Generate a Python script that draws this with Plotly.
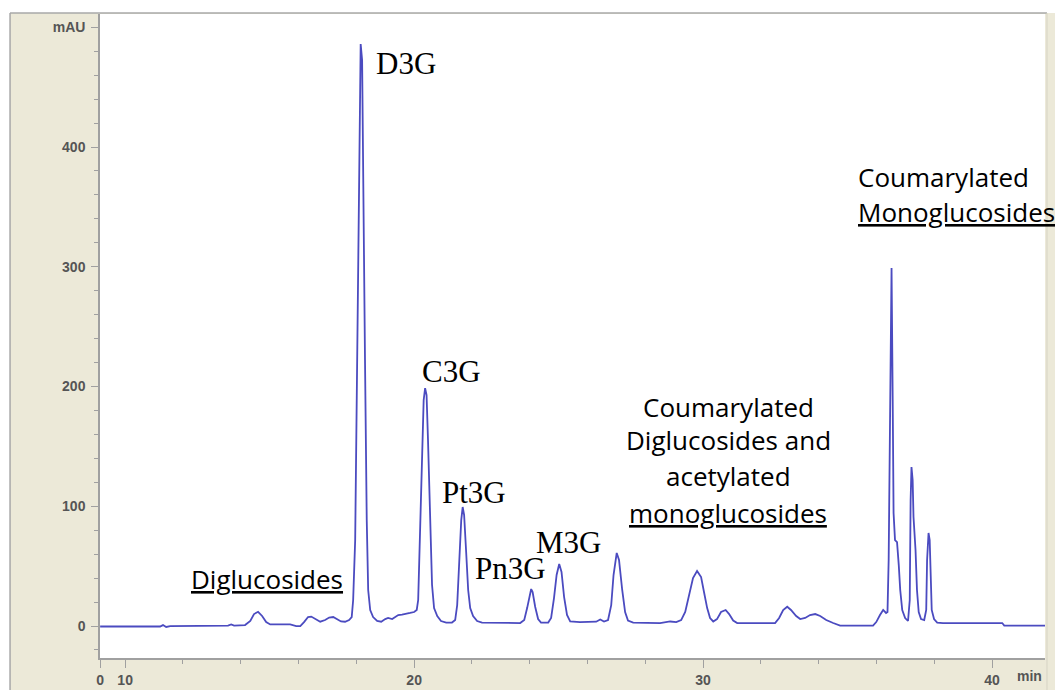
import plotly.graph_objects as go

# ---- data (time in min, absorbance in mAU) ----
time_min = [
    9.135, 11.21, 11.31, 11.42, 11.56, 13.56, 13.67, 13.77, 14.15, 14.33,
    14.46, 14.60, 14.74, 14.88, 15.02, 15.71, 15.92, 16.06, 16.19, 16.33,
    16.44, 16.57, 16.75, 16.92, 17.06, 17.20, 17.34, 17.47, 17.61, 17.75,
    17.84, 17.89, 17.96, 18.03, 18.10, 18.15, 18.20, 18.25, 18.30, 18.36,
    18.41, 18.48, 18.58, 18.72, 18.86, 19.00, 19.10, 19.24, 19.34, 19.45,
    19.58, 19.72, 19.86, 20.00, 20.09, 20.14, 20.21, 20.28, 20.33, 20.38,
    20.43, 20.48, 20.55, 20.62, 20.69, 20.80, 20.93, 21.11, 21.31, 21.42,
    21.49, 21.56, 21.63, 21.68, 21.73, 21.80, 21.87, 21.94, 22.04, 22.18,
    22.35, 23.67, 23.81, 23.91, 24.00, 24.05, 24.10, 24.19, 24.29, 24.39,
    24.64, 24.74, 24.84, 24.93, 25.02, 25.10, 25.19, 25.29, 25.40, 25.74,
    26.30, 26.44, 26.57, 26.71, 26.82, 26.90, 27.01, 27.09, 27.20, 27.30,
    27.40, 27.58, 28.51, 28.72, 28.86, 29.07, 29.24, 29.38, 29.52, 29.65,
    29.79, 29.93, 30.03, 30.14, 30.24, 30.35, 30.48, 30.62, 30.78, 30.90,
    31.04, 31.18, 32.49, 32.63, 32.77, 32.91, 33.04, 33.22, 33.36, 33.53,
    33.70, 33.88, 34.05, 34.26, 34.50, 34.74, 35.88, 35.99, 36.12, 36.23,
    36.33, 36.38, 36.42, 36.45, 36.49, 36.52, 36.56, 36.59, 36.64, 36.71,
    36.77, 36.82, 36.89, 36.99, 37.09, 37.15, 37.18, 37.21, 37.25, 37.28,
    37.35, 37.40, 37.46, 37.54, 37.65, 37.72, 37.75, 37.80, 37.84, 37.87,
    37.91, 37.99, 38.10, 38.30, 40.35, 40.42, 41.83,
]
signal_mau = [
    -0.4, -0.4, 0.8, -0.8, 0.0, 0.4, 1.3, 0.4, 0.8, 4.2,
    10.0, 11.9, 8.4, 3.3, 1.3, 1.3, 0.0, 0.0, 3.3, 7.5,
    7.9, 5.8, 3.6, 5.0, 7.1, 7.5, 5.8, 3.8, 3.6, 5.0,
    7.5, 21.7, 71.8, 247.2, 422.5, 486.0, 472.7, 372.4, 222.1, 88.5,
    30.1, 13.4, 7.5, 4.2, 3.6, 5.8, 6.7, 5.8, 7.5, 9.2,
    9.6, 10.0, 10.9, 11.7, 13.4, 21.7, 80.2, 155.3, 188.7, 198.7,
    192.9, 155.3, 88.5, 34.2, 15.0, 8.4, 4.2, 2.9, 2.9, 5.0,
    17.5, 50.9, 88.5, 99.4, 92.7, 61.8, 30.1, 15.0, 8.4, 4.2,
    2.9, 2.5, 5.0, 15.0, 27.6, 30.9, 28.4, 15.9, 5.8, 2.9,
    2.9, 6.7, 23.4, 42.6, 51.8, 45.1, 24.2, 9.2, 3.8, 3.3,
    3.6, 5.4, 3.8, 5.0, 17.5, 42.6, 61.0, 55.1, 30.1, 11.7,
    4.6, 2.9, 2.5, 3.3, 3.8, 3.3, 5.0, 11.7, 25.9, 40.1,
    45.9, 40.9, 28.4, 15.0, 6.7, 3.8, 5.8, 11.7, 13.4, 10.0,
    4.6, 2.5, 2.5, 6.7, 13.4, 16.1, 13.4, 8.4, 5.8, 6.7,
    9.2, 10.0, 8.4, 5.0, 2.5, 0.4, 0.4, 3.3, 9.2, 13.4,
    10.9, 11.7, 55.1, 147.0, 247.2, 299.0, 188.7, 94.4, 71.8, 70.1,
    50.9, 30.1, 13.4, 6.7, 4.2, 21.7, 105.2, 132.8, 121.9, 91.0,
    63.5, 30.1, 11.7, 5.8, 5.0, 13.4, 55.1, 77.7, 71.8, 38.4,
    13.4, 5.8, 2.9, 2.5, 2.5, 0.4, 0.4,
]

peak_labels = ["D3G", "C3G", "Pt3G", "Pn3G", "M3G"]
x_tick_vals = [9.135, 10, 20, 30, 40]
x_tick_text = ["0", "10", "20", "30", "40"]
y_tick_vals = [0, 100, 200, 300, 400, 500]
y_tick_text = ["0", "100", "200", "300", "400", "mAU"]

BEIGE = "#ECE9D8"
AXIS_GREY = "#A0A0A0"
TICK_FONT = dict(family="Liberation Sans, Arial", size=14, color="#555555", weight="bold")
SERIF = dict(family="Liberation Serif, Times New Roman", size=31, color="#000000")
SANS = dict(family="Open Sans, sans-serif", size=26, color="#000000")

fig = go.Figure()
fig.add_trace(go.Scatter(
    x=time_min, y=signal_mau, mode="lines",
    line=dict(color="#4B4BC0", width=1.8),
    hoverinfo="skip", showlegend=False,
))

fig.update_layout(
    width=1055, height=690,
    margin=dict(l=100, r=10, t=14, b=32, autoexpand=False),
    paper_bgcolor=BEIGE,
    plot_bgcolor="#FFFFFF",
    showlegend=False,
)

fig.update_xaxes(
    range=[9.13, 41.83], showgrid=False, zeroline=False, automargin=False,
    showline=True, linecolor=AXIS_GREY, linewidth=1.5,
    tickmode="array", tickvals=x_tick_vals, ticktext=x_tick_text,
    ticks="outside", ticklen=8, tickcolor=AXIS_GREY, tickwidth=1,
    tickfont=TICK_FONT,
    minor=dict(tickmode="linear", tick0=0, dtick=2, ticks="outside",
               ticklen=4, tickcolor=AXIS_GREY, tickwidth=1),
)
fig.update_yaxes(
    range=[-26.7, 511.1], showgrid=False, zeroline=False, automargin=False,
    showline=True, linecolor=AXIS_GREY, linewidth=1.5,
    tickmode="array", tickvals=y_tick_vals, ticktext=y_tick_text,
    ticks="outside", ticklen=7, tickcolor=AXIS_GREY, tickwidth=1,
    tickfont=TICK_FONT, ticklabelstandoff=3,
    minor=dict(tickmode="linear", tick0=0, dtick=20, ticks="outside",
               ticklen=4, tickcolor=AXIS_GREY, tickwidth=1),
)

# ---- frame of the instrument window ----
shapes = [
    dict(type="rect", xref="paper", yref="paper", x0=-0.11, x1=1.011, y0=1.0016, y1=1.025,
         fillcolor="#FFFFFF", line=dict(width=0)),
    dict(type="rect", xref="paper", yref="paper", x0=-0.11, x1=-0.0952, y0=-0.06, y1=1.025,
         fillcolor="#FFFFFF", line=dict(width=0)),
    dict(type="line", xref="paper", yref="paper", x0=-0.0952, x1=1.0021, y0=1.0016, y1=1.0016,
         line=dict(color="#A8A8A8", width=1.5)),
    dict(type="line", xref="paper", yref="paper", x0=-0.0952, x1=-0.0952, y0=-0.06, y1=1.0016,
         line=dict(color="#A8A8A8", width=1.5)),
    dict(type="line", xref="paper", yref="paper", x0=1.0021, x1=1.0021, y0=-0.06, y1=1.0016,
         line=dict(color="#D6D3C4", width=1)),
]
fig.update_layout(shapes=shapes)

# ---- annotations ----
label_pos = {
    "D3G": (19.72, 470.1),
    "C3G": (21.28, 212.9),
    "Pt3G": (22.08, 111.1),
    "Pn3G": (23.34, 48.4),
    "M3G": (25.35, 70.1),
}
annotations = []
for name in peak_labels:
    x, y = label_pos[name]
    annotations.append(dict(x=x, y=y, text=name, showarrow=False, font=SERIF,
                            xanchor="center", yanchor="middle"))

annotations.append(dict(x=14.91, y=39.2, text="<u>Diglucosides</u>", showarrow=False,
                        font=SANS, xanchor="center", yanchor="middle"))

mid_lines = [("Coumarylated", 182.9), ("Diglucosides and", 155.3),
             ("acetylated", 125.3), ("<u>monoglucosides</u>", 94.4)]
for txt, y in mid_lines:
    annotations.append(dict(x=30.87, y=y, text=txt, showarrow=False, font=SANS,
                            xanchor="center", yanchor="middle"))

right_lines = [("Coumarylated", 374.9), ("<u>Monoglucosides</u>", 345.7)]
for txt, y in right_lines:
    annotations.append(dict(x=35.28, y=y, text=txt, showarrow=False, font=SANS,
                            xanchor="left", yanchor="middle"))

annotations.append(dict(x=41.31, y=-0.028, xref="x", yref="paper", text="min",
                        showarrow=False, font=TICK_FONT, xanchor="center", yanchor="middle"))
fig.update_layout(annotations=annotations)

fig.write_html("out.html")
